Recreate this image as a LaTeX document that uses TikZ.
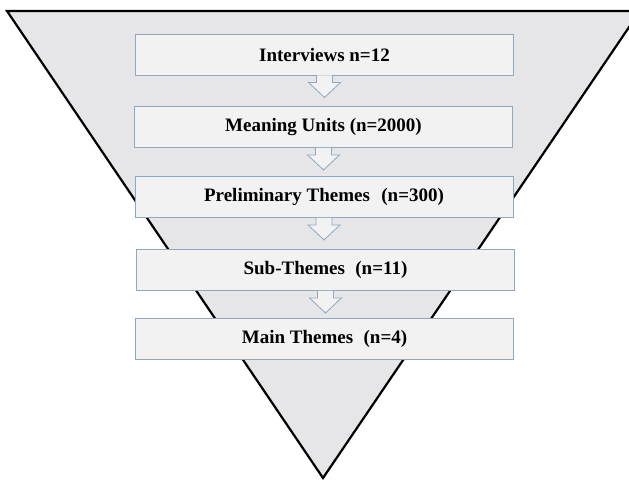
\documentclass[tikz,border=0pt]{standalone}
\usepackage{fontspec}
\setmainfont{Liberation Serif}
\usetikzlibrary{calc}
\definecolor{funnelfill}{HTML}{E6E5E7}
\definecolor{boxfill}{HTML}{F2F2F2}
\definecolor{boxline}{HTML}{8FA8BE}
\tikzset{
  stagebox/.style={draw=boxline, fill=boxfill, line width=0.9pt, minimum width=378pt, minimum height=41pt, inner sep=0pt, font=\fontsize{19}{21}\selectfont\bfseries},
  blockarrow/.style={draw=boxline, fill=boxfill, line width=0.8pt, line join=miter}
}
\newcommand{\downarrowblock}[1]{%
  \filldraw[blockarrow] ($(#1.south)+(-8,0)$) -- ($(#1.south)+(-8,7)$) -- ($(#1.south)+(-16,7)$) -- ($(#1.south)+(0,22)$) -- ($(#1.south)+(16,7)$) -- ($(#1.south)+(8,7)$) -- ($(#1.south)+(8,0)$);}
\begin{document}
\begin{tikzpicture}[x=1pt,y=-1pt]
\useasboundingbox (0,0) rectangle (629,480);
\fill[white] (0,0) rectangle (629,480);
\begin{scope}
\clip (0,0) rectangle (629,480);
\coordinate (tl) at (7,11);
\coordinate (tr) at (640,11);
\coordinate (apex) at (323,478);
\filldraw[fill=funnelfill, draw=black, line width=2.2pt, line join=miter] (tl) -- (tr) -- (apex) -- cycle;
\end{scope}
\node[stagebox] (b1) at (324.5,54.5) {Interviews n=12};
\node[stagebox] (b2) at (323.5,127) {Meaning Units (n=2000)};
\node[stagebox] (b3) at (324,197) {Preliminary Themes\hspace{0.35em} (n=300)};
\node[stagebox] (b4) at (325.5,270) {Sub-Themes\hspace{0.3em} (n=11)};
\node[stagebox] (b5) at (324.5,339) {Main Themes\hspace{0.3em} (n=4)};
\downarrowblock{b1}
\downarrowblock{b2}
\downarrowblock{b3}
\downarrowblock{b4}
\end{tikzpicture}
\end{document}
